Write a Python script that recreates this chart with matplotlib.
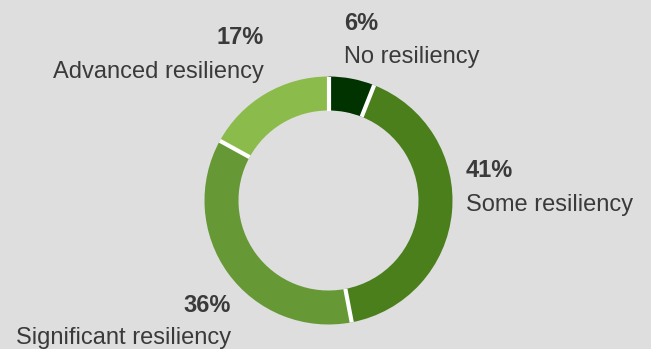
import numpy as np
import matplotlib.pyplot as plt

# Resiliency levels, clockwise from 12 o'clock
labels = ["No resiliency", "Some resiliency", "Significant resiliency", "Advanced resiliency"]
shares = [6, 41, 36, 17]
colors = ["#003300", "#4a7f1c", "#669935", "#8bbc4b"]

BG = "#dedede"
TEXT = "#3a3a3a"
W, H = 651, 349

plt.rcParams['font.family'] = ['Liberation Sans', 'DejaVu Sans']

fig = plt.figure(figsize=(W / 100, H / 100), dpi=100, facecolor=BG)
ax = fig.add_axes([0, 0, 1, 1])
ax.set_facecolor(BG)

# donut, working in pixel units with y measured from the top
cx, cy, r, ring = 328.5, 200.5, 124, 34
ax.pie(shares, colors=colors, startangle=90, counterclock=False,
       center=(cx, H - cy), radius=r,
       wedgeprops=dict(width=ring, linewidth=0))

# white gaps between slices only (no outline round the ring)
bounds = np.cumsum([0] + shares[:-1]) / sum(shares)
for f in bounds:
    a = np.deg2rad(90 - 360 * f)
    rr = np.array([r - ring, r])
    ax.plot(cx + rr * np.cos(a), H - cy + rr * np.sin(a),
            color='white', lw=3, solid_capstyle='butt')

# pie() resets the limits, so set the pixel frame afterwards
ax.set_xlim(0, W)
ax.set_ylim(0, H)
ax.set_aspect('equal')
ax.axis('off')

# label anchors: (x, baseline of value, baseline of name, alignment)
anchors = [
    (344, 30, 63, 'left'),
    (466, 177, 211, 'left'),
    (231, 312, 344, 'right'),
    (264, 44, 78, 'right'),
]
for name, val, (x, y1, y2, ha) in zip(labels, shares, anchors):
    ax.text(x, H - y1, f"{val}%", ha=ha, va='baseline', fontsize=17,
            fontweight='bold', color=TEXT)
    ax.text(x, H - y2, name, ha=ha, va='baseline', fontsize=17, color=TEXT)

fig.savefig("out.png", dpi=100, facecolor=BG)
